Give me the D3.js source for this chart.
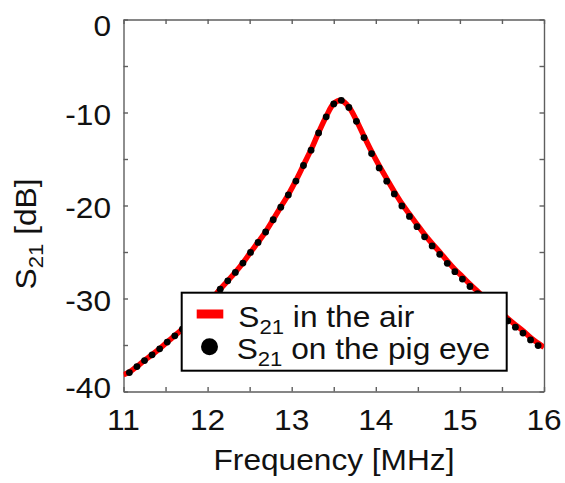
<!DOCTYPE html>
<html>
<head>
<meta charset="utf-8">
<script src="https://cdn.jsdelivr.net/npm/d3@7"></script>
<style>
  html, body { margin: 0; padding: 0; background: #fff; }
  svg { display: block; }
  text { font-family: "Liberation Sans", Arial, sans-serif; fill: #111; }
</style>
</head>
<body>
<svg id="chart" width="565" height="483"></svg>
<script>
// ---- data ----
const freqEye = [11.07, 11.16, 11.25, 11.34, 11.43, 11.52, 11.61, 11.70, 11.79, 11.88,
  11.97, 12.06, 12.15, 12.24, 12.33, 12.42, 12.51, 12.60, 12.69, 12.78,
  12.87, 12.96, 13.05, 13.14, 13.23, 13.32, 13.41, 13.50, 13.59, 13.68,
  13.77, 13.86, 13.95, 14.04, 14.13, 14.22, 14.31, 14.40, 14.49, 14.58,
  14.67, 14.76, 14.85, 14.94, 15.03, 15.12, 15.21, 15.30, 15.39, 15.48,
  15.57, 15.66, 15.75, 15.84, 15.93];
const s21Eye = [-37.96, -37.32, -36.67, -36.06, -35.41, -34.69, -34.01, -33.29, -32.52, -31.70,
  -30.84, -29.94, -29.00, -28.10, -27.20, -26.19, -25.05, -23.97, -22.85, -21.53,
  -20.18, -18.86, -17.37, -15.70, -14.05, -12.20, -10.47, -9.08, -8.69, -9.45,
  -10.95, -12.70, -14.42, -15.96, -17.38, -18.76, -20.05, -21.18, -22.28, -23.37,
  -24.35, -25.25, -26.22, -27.12, -27.91, -28.71, -29.48, -30.23, -30.96, -31.68,
  -32.40, -33.08, -33.72, -34.45, -35.06];

const freqAir = [11.00, 11.07, 11.16, 11.25, 11.34, 11.43, 11.52, 11.61, 11.70, 11.79, 11.88,
  11.97, 12.06, 12.15, 12.24, 12.33, 12.42, 12.51, 12.60, 12.69, 12.78,
  12.87, 12.96, 13.05, 13.14, 13.23, 13.32, 13.41, 13.50, 13.59, 13.68,
  13.77, 13.86, 13.95, 14.04, 14.13, 14.22, 14.31, 14.40, 14.49, 14.58,
  14.67, 14.76, 14.85, 14.94, 15.03, 15.12, 15.21, 15.30, 15.39, 15.48,
  15.57, 15.66, 15.75, 15.84, 15.93, 16.00];
const s21Air = [-38.20, -37.92, -37.30, -36.65, -36.04, -35.40, -34.68, -34.00, -33.28, -32.51, -31.69,
  -30.83, -29.93, -28.99, -28.09, -27.18, -26.17, -25.04, -23.95, -22.82, -21.50,
  -20.15, -18.82, -17.32, -15.66, -14.00, -12.15, -10.43, -9.05, -8.70, -9.40,
  -10.85, -12.55, -14.20, -15.72, -17.13, -18.51, -19.80, -20.93, -22.03, -23.12,
  -24.10, -25.00, -25.97, -26.87, -27.66, -28.46, -29.23, -29.98, -30.71, -31.43,
  -32.15, -32.83, -33.47, -34.20, -34.81, -35.25];

const xTicks = [11, 11.5, 12, 12.5, 13, 13.5, 14, 14.5, 15, 15.5, 16];
const xTickLabels = [11, 12, 13, 14, 15, 16];
const yTicks = [0, -5, -10, -15, -20, -25, -30, -35, -40];
const yTickLabels = [0, -10, -20, -30, -40];
const legendLabels = ["in the air", "on the pig eye"];

// ---- layout ----
const L = 123.5, R = 544, T = 19.5, B = 391.5;
const SX = 1.055; // horizontal stretch of the text
const FS = 30;
const axisColor = "#5e5e5e";

const svg = d3.select("#chart");
const x = d3.scaleLinear().domain([11, 16]).range([L, R]);
const y = d3.scaleLinear().domain([-40, 0]).range([B, T]);

svg.append("defs").append("clipPath").attr("id", "clip")
  .append("rect").attr("x", L).attr("y", T).attr("width", R - L).attr("height", B - T);

// axes box with inward ticks
function styleAxis(g) {
  g.selectAll("path, line").attr("stroke", axisColor).attr("stroke-width", 1.4);
  g.selectAll("text").remove();
}
svg.append("g").attr("transform", `translate(0,${B})`)
  .call(d3.axisBottom(x).tickValues(xTicks).tickSizeInner(-4.5).tickSizeOuter(0)).call(styleAxis);
svg.append("g").attr("transform", `translate(0,${T})`)
  .call(d3.axisTop(x).tickValues(xTicks).tickSizeInner(-4.5).tickSizeOuter(0)).call(styleAxis);
svg.append("g").attr("transform", `translate(${L},0)`)
  .call(d3.axisLeft(y).tickValues(yTicks).tickSizeInner(-4.5).tickSizeOuter(0)).call(styleAxis);
svg.append("g").attr("transform", `translate(${R},0)`)
  .call(d3.axisRight(y).tickValues(yTicks).tickSizeInner(-4.5).tickSizeOuter(0)).call(styleAxis);

// tick labels
function stretchedText(parent, px, py, anchor) {
  return parent.append("text")
    .attr("transform", `translate(${px},${py}) scale(${SX},1)`)
    .attr("text-anchor", anchor)
    .style("font-size", FS + "px");
}
xTickLabels.forEach(v => {
  stretchedText(svg, x(v), 430, "middle").text(v);
});
yTickLabels.forEach(v => {
  let py = y(v) + 12;
  if (v === 0) py = y(v) + 16.5;
  if (v === -40) py = y(v) + 6;
  stretchedText(svg, 111, py, "end").text(v);
});

// axis titles
stretchedText(svg, 334, 470, "middle").text("Frequency [MHz]");
const yt = svg.append("text")
  .attr("transform", `translate(36,234) rotate(-90) scale(${SX},1)`)
  .attr("text-anchor", "middle")
  .style("font-size", FS + "px");
yt.append("tspan").text("S");
yt.append("tspan").attr("dy", 7).style("font-size", "21px").text("21");
yt.append("tspan").attr("dy", -7).text(" [dB]");

// data
const plot = svg.append("g").attr("clip-path", "url(#clip)");
const line = d3.line().x((d, i) => x(freqAir[i])).y(d => y(d)).curve(d3.curveCatmullRom);
plot.append("path").datum(s21Air)
  .attr("d", line).attr("fill", "none").attr("stroke", "#ff0000")
  .attr("stroke-width", 5.5).attr("stroke-linejoin", "round");
plot.selectAll("circle").data(s21Eye).join("circle")
  .attr("cx", (d, i) => x(freqEye[i])).attr("cy", d => y(d))
  .attr("r", 3.4).attr("fill", "#000");

// legend
const lg = svg.append("g");
lg.append("rect").attr("x", 181.7).attr("y", 292.7).attr("width", 325).attr("height", 78)
  .attr("fill", "#fff").attr("stroke", "#000").attr("stroke-width", 2);
lg.append("line").attr("x1", 196.7).attr("x2", 223.3).attr("y1", 314).attr("y2", 314)
  .attr("stroke", "#ff0000").attr("stroke-width", 9);
lg.append("circle").attr("cx", 209.5).attr("cy", 346.7).attr("r", 8.5).attr("fill", "#000");
[[238.3, 326.5], [236.7, 358.5]].forEach((p, i) => {
  const t = stretchedText(lg, p[0], p[1], "start");
  t.append("tspan").text("S");
  t.append("tspan").attr("dy", 7).style("font-size", "21px").text("21");
  t.append("tspan").attr("dy", -7).text(" " + legendLabels[i]);
});
</script>
</body>
</html>
